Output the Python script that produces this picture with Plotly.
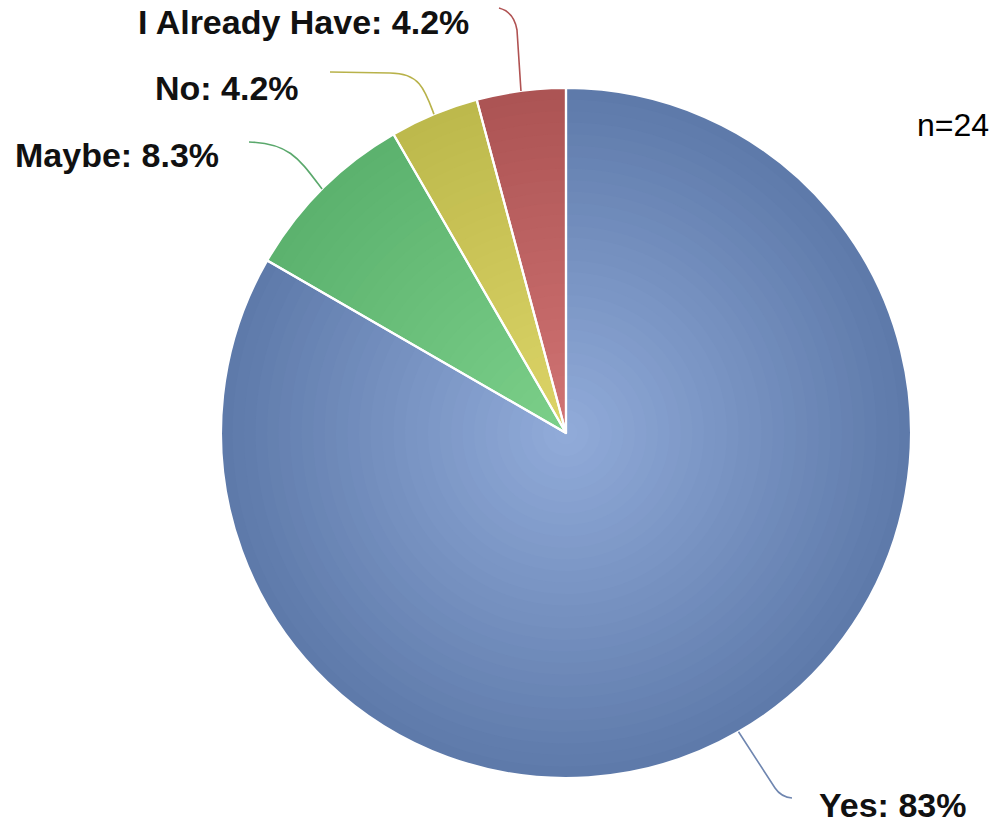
import math
import plotly.graph_objects as go

# ---- data ----
categories = ["Yes", "Maybe", "No", "I Already Have"]
counts = [20, 2, 1, 1]
pct_labels = ["83%", "8.3%", "4.2%", "4.2%"]
n_total = 24

# ---- style ----
W, H = 994, 823
CX, CY, R = 566, 433, 345
outer_cols = [(94, 122, 170), (92, 178, 110), (189, 185, 76), (172, 84, 84)]
inner_cols = [(146, 172, 218), (124, 208, 138), (221, 213, 104), (210, 116, 116)]
line_cols = ["#6f86b0", "#5aa86c", "#b8b24a", "#b05252"]

def px(x, y):
    return x / W, 1 - y / H

def hexc(c):
    return "rgb(%d,%d,%d)" % tuple(int(round(v)) for v in c)

fig = go.Figure()
N = 30
for k in range(N):
    t = k / N
    r = R * (1 - t)
    cols = [hexc([o + (i - o) * t for o, i in zip(oc, ic)]) for oc, ic in zip(outer_cols, inner_cols)]
    x0, y0 = px(CX - r, CY + r)
    x1, y1 = px(CX + r, CY - r)
    fig.add_trace(go.Pie(
        labels=categories, values=counts, sort=False, direction="clockwise", rotation=0,
        marker=dict(colors=cols, line=dict(width=0)),
        textinfo="none", hoverinfo="skip", showlegend=False,
        domain=dict(x=[x0, x1], y=[y0, y1]),
    ))
# separators
x0, y0 = px(CX - R, CY + R)
x1, y1 = px(CX + R, CY - R)
fig.add_trace(go.Pie(
    labels=categories, values=counts, sort=False, direction="clockwise", rotation=0,
    marker=dict(colors=["rgba(0,0,0,0)"] * 4, line=dict(width=2.2, color="white")),
    textinfo="none", hoverinfo="skip", showlegend=False,
    domain=dict(x=[x0, x1], y=[y0, y1]),
))

# leader lines: start at mid-angle of each slice on the rim
total = sum(counts)
cum = 0
starts = []
for c in counts:
    mid = (cum + c / 2) / total * 2 * math.pi
    starts.append((CX + R * math.sin(mid), CY - R * math.cos(mid)))
    cum += c

def P(x, y):
    a, b = px(x, y)
    return "%.5f,%.5f" % (a, b)

paths = [
    "M %s L %s Q %s %s" % (P(*starts[0]), P(775, 788), P(781, 797), P(792, 798)),
    "M %s C %s %s %s" % (P(*starts[1]), P(300, 160), P(290, 143), P(249, 142)),
    "M %s C %s %s %s L %s" % (P(*starts[2]), P(425, 90), P(420, 73), P(390, 73), P(330, 72)),
    "M %s L %s Q %s %s" % (P(*starts[3]), P(517, 30), P(514, 12), P(499, 8)),
]
for p, lc in zip(paths, line_cols):
    fig.add_shape(type="path", path=p, xref="paper", yref="paper",
                  line=dict(color=lc, width=1.6))

label_pos = [(817, 805, "left"), (221, 155, "right"), (301, 88, "right"), (471, 22, "right")]
for cat, pl, (lx, ly, anc) in zip(categories, pct_labels, label_pos):
    ax_, ay_ = px(lx, ly)
    fig.add_annotation(x=ax_, y=ay_, xref="paper", yref="paper", text="<b>%s: %s</b>" % (cat, pl),
                       showarrow=False, xanchor=anc, yanchor="middle",
                       font=dict(family="Liberation Sans, Arial", size=34, color="#111111"))

nx, ny = px(991, 125)
fig.add_annotation(x=nx, y=ny, xref="paper", yref="paper", text="n=%d" % n_total,
                   showarrow=False, xanchor="right", yanchor="middle",
                   font=dict(family="Liberation Sans, Arial", size=32, color="#000000"))

fig.update_layout(width=W, height=H, margin=dict(l=0, r=0, t=0, b=0),
                  paper_bgcolor="white", plot_bgcolor="white")
fig.write_html("out.html")
